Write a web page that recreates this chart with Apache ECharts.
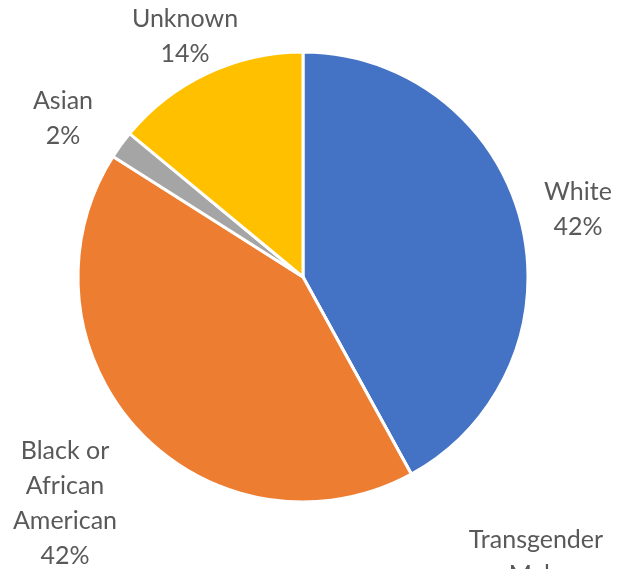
<!DOCTYPE html>
<html>
<head>
<meta charset="utf-8">
<script src="https://cdn.jsdelivr.net/npm/echarts@6/dist/echarts.min.js"></script>
<style>
html,body{margin:0;padding:0;background:#fff;}
#c{width:617px;height:569px;}
</style>
</head>
<body>
<div id="c"></div>
<script>
// Data
const categories = ['White', 'Transgender Male', 'Black or African American', 'Asian', 'Unknown'];
const labelNames = ['White', 'Transgender\nMale', 'Black or\nAfrican\nAmerican', 'Asian', 'Unknown'];
const values = [42, 0, 42, 2, 14];
const colors = ['#4472C4', '#5B9BD5', '#ED7D31', '#A5A5A5', '#FFC000'];

// Label block centers (layout only)
const labelPos = [
  [578, 209],
  [536, 575],
  [65, 503],
  [63, 118],
  [185, 36]
];

const chart = echarts.init(document.getElementById('c'), null, {renderer: 'canvas'});
chart.setOption({
  animation: false,
  series: [{
    type: 'pie',
    center: [303, 277],
    radius: 225,
    startAngle: 90,
    clockwise: true,
    percentPrecision: 0,
    avoidLabelOverlap: false,
    stillShowZeroSum: true,
    data: categories.map((c, i) => ({
      name: c,
      value: values[i],
      itemStyle: {color: colors[i]}
    })),
    itemStyle: {borderColor: '#fff', borderWidth: 3},
    label: {
      show: true,
      position: 'outside',
      color: '#595959',
      fontFamily: 'Lato',
      fontSize: 25,
      lineHeight: 35,
      align: 'center',
      formatter: p => labelNames[p.dataIndex] + '\n' + p.percent + '%'
    },
    labelLine: {show: false},
    labelLayout: p => ({
      x: labelPos[p.dataIndex][0],
      y: labelPos[p.dataIndex][1],
      align: 'center',
      verticalAlign: 'middle'
    }),
    emphasis: {disabled: true}
  }]
});
</script>
</body>
</html>
